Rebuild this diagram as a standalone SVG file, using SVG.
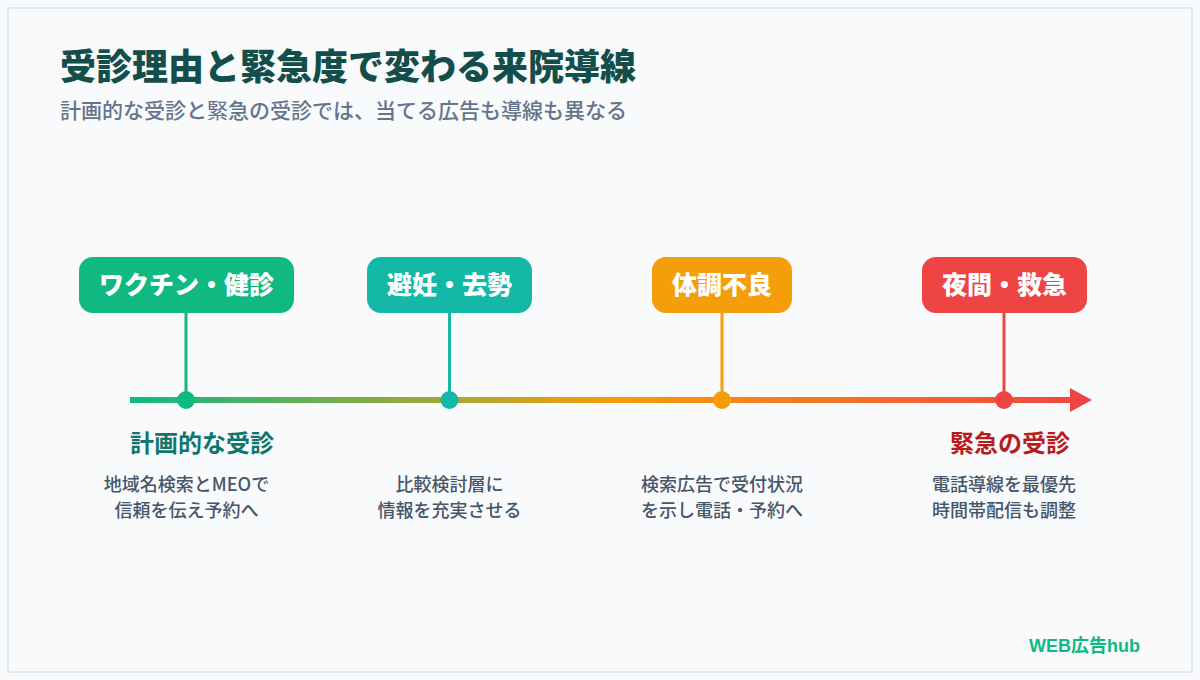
<svg xmlns="http://www.w3.org/2000/svg" width="1200" height="680" viewBox="0 0 1200 680">
<style>
text{font-family:"Noto Sans CJK JP","Noto Sans",sans-serif}
.pill{font-size:25px;font-weight:800;fill:#fff;text-anchor:middle}
.cap{font-size:24px;font-weight:700;text-anchor:middle}
.desc{font-size:18px;font-weight:500;fill:#475569;text-anchor:middle}
.lead{stroke-width:3}
</style>
<defs>
<linearGradient id="g" gradientUnits="userSpaceOnUse" x1="130" y1="0" x2="1092" y2="0">
<stop offset="0" stop-color="#10b981"/><stop offset="0.5" stop-color="#f59e0b"/><stop offset="1" stop-color="#ef4444"/>
</linearGradient>
</defs>
<rect x="0" y="0" width="1200" height="680" fill="#f8fafc"/>
<rect x="8" y="8" width="1184" height="664" fill="#f8fafc" stroke="#e2e8f0" stroke-width="2"/>
<text id="title" x="60" y="80" font-size="36" font-weight="800" fill="#134e4a">受診理由と緊急度で変わる来院導線</text>
<text id="subtitle" x="60" y="118" font-size="21" font-weight="500" fill="#64748b">計画的な受診と<tspan font-weight="400">緊</tspan>急の受診では、当てる広告も導線も異なる</text>
<g id="connectors">
<rect x="130" y="397" width="942" height="6" fill="url(#g)"/>
<polygon points="1070,388 1092,400 1070,412" fill="#ef4444"/>
<line class="lead" x1="186" y1="313" x2="186" y2="400" stroke="#10b981"/>
<line class="lead" x1="449.500" y1="313" x2="449.500" y2="400" stroke="#14b8a6"/>
<line class="lead" x1="722" y1="313" x2="722" y2="400" stroke="#f59e0b"/>
<line class="lead" x1="1004" y1="313" x2="1004" y2="400" stroke="#ef4444"/>
</g>
<g id="node-vaccine">
<rect x="79" y="257" width="215" height="56" rx="14" fill="#10b981"/>
<text class="pill" x="186.500" y="294">ワクチン・健診</text>
<circle cx="186" cy="400" r="9" fill="#10b981"/>
<text class="cap" x="202" y="452" fill="#0f766e">計画的な受診</text>
<text class="desc" x="186.500" y="491">地域名検索とMEOで</text>
<text class="desc" x="186.500" y="517">信頼を伝え予約へ</text>
</g>
<g id="node-contraception">
<rect x="367" y="257" width="165" height="56" rx="14" fill="#14b8a6"/>
<text class="pill" x="449.500" y="294">避妊・去勢</text>
<circle cx="449.500" cy="400" r="9" fill="#14b8a6"/>
<text class="desc" x="449.500" y="491">比較検討層に</text>
<text class="desc" x="449.500" y="517">情報を充実させる</text>
</g>
<g id="node-illness">
<rect x="652" y="257" width="140" height="56" rx="14" fill="#f59e0b"/>
<text class="pill" x="722" y="294">体調不良</text>
<circle cx="722" cy="400" r="9" fill="#f59e0b"/>
<text class="desc" x="722" y="491">検索広告で受付状況</text>
<text class="desc" x="722" y="517">を示し電話・予約へ</text>
</g>
<g id="node-emergency">
<rect x="922" y="257" width="165" height="56" rx="14" fill="#ef4444"/>
<text class="pill" x="1004.500" y="294">夜間・救急</text>
<circle cx="1004" cy="400" r="9" fill="#ef4444"/>
<text class="cap" x="1010" y="452" fill="#b91c1c">緊急の受診</text>
<text class="desc" x="1004" y="491">電話導線を最優先</text>
<text class="desc" x="1004" y="517">時間帯配信も調整</text>
</g>
<text id="brand" x="1140" y="652" font-size="18" font-weight="700" fill="#10b981" text-anchor="end" style="font-family:'Liberation Sans','Noto Sans CJK JP',sans-serif">WEB広告hub</text>
</svg>
